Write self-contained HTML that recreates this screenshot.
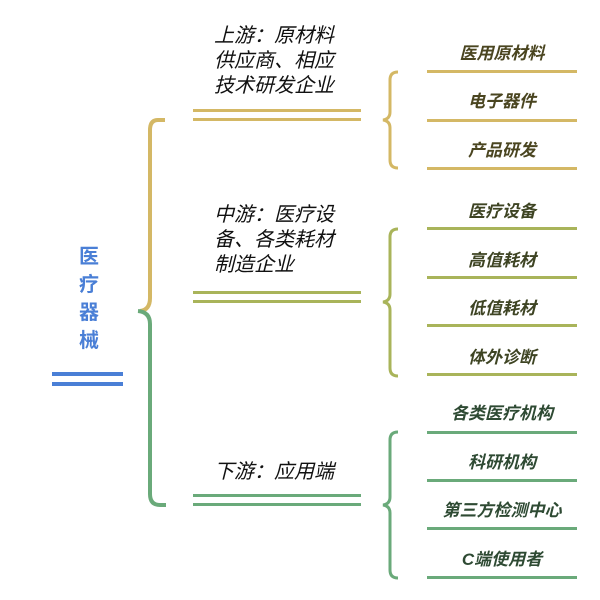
<!DOCTYPE html>
<html><head><meta charset="utf-8"><style>
html,body{margin:0;padding:0;background:#fff;}
svg{display:block;}
.l{font-family:"Liberation Sans","Noto Sans CJK SC",sans-serif;font-size:20px;font-style:italic;fill:#111;}
.r{font-family:"Liberation Sans","Noto Sans CJK SC",sans-serif;font-size:17px;font-weight:bold;font-style:italic;text-anchor:middle;}
</style></head><body>
<svg width="600" height="600" viewBox="0 0 600 600" xmlns="http://www.w3.org/2000/svg">
<path d="M165 120 H158 Q150 120 150 130 V298 Q150 310 140 311" fill="none" stroke="#d4b865" stroke-width="4"/>
<path d="M138 311 Q150 312 150 324 V494 Q150 505 160 505 H166" fill="none" stroke="#6aaa7a" stroke-width="4"/>
<g font-family="'Liberation Sans','Noto Sans CJK SC',sans-serif" font-size="20" font-weight="bold" fill="#4a7fd6" text-anchor="middle">
<text x="89" y="263">医</text><text x="89" y="291">疗</text><text x="89" y="319">器</text><text x="89" y="347">械</text>
</g>
<rect x="52" y="372" width="71" height="4" fill="#4a7fd6"/>
<rect x="52" y="382" width="71" height="4" fill="#4a7fd6"/>
<text class="l" x="214" y="42">上游：原材料</text>
<text class="l" x="214" y="67">供应商、相应</text>
<text class="l" x="214" y="92">技术研发企业</text>
<rect x="193" y="109" width="168" height="3" fill="#d4b865"/>
<rect x="193" y="118" width="168" height="3" fill="#d4b865"/>
<text class="l" x="214" y="221">中游：医疗设</text>
<text class="l" x="214" y="246">备、各类耗材</text>
<text class="l" x="214" y="271">制造企业</text>
<rect x="193" y="291" width="168" height="3" fill="#a9b45a"/>
<rect x="193" y="300" width="168" height="3" fill="#a9b45a"/>
<text class="l" x="214" y="478">下游：应用端</text>
<rect x="193" y="494" width="168" height="3" fill="#6aaa7a"/>
<rect x="193" y="503" width="168" height="3" fill="#6aaa7a"/>
<path d="M398 72 Q390 72 390 80 V112 Q390 119 383 120 Q390 121 390 128 V160 Q390 168 398 168" fill="none" stroke="#d4b865" stroke-width="3"/>
<path d="M398 229 Q390 229 390 237 V294 Q390 301 383 302 Q390 303 390 310 V368 Q390 376 398 376" fill="none" stroke="#a9b45a" stroke-width="3"/>
<path d="M398 432 Q390 432 390 440 V497 Q390 504 383 505 Q390 506 390 513 V570 Q390 578 398 578" fill="none" stroke="#6aaa7a" stroke-width="3"/>
<g fill="#d4b865"><rect x="427" y="70" width="150" height="3"/><rect x="427" y="119" width="150" height="3"/><rect x="427" y="167" width="150" height="3"/></g>
<text class="r" x="502" y="59" fill="#4a4520">医用原材料</text>
<text class="r" x="502" y="107" fill="#4a4520">电子器件</text>
<text class="r" x="502" y="156" fill="#4a4520">产品研发</text>
<g fill="#a9b45a"><rect x="427" y="227" width="150" height="3"/><rect x="427" y="276" width="150" height="3"/><rect x="427" y="324" width="150" height="3"/><rect x="427" y="373" width="150" height="3"/></g>
<text class="r" x="502" y="217" fill="#3e4423">医疗设备</text>
<text class="r" x="502" y="266" fill="#3e4423">高值耗材</text>
<text class="r" x="502" y="314" fill="#3e4423">低值耗材</text>
<text class="r" x="502" y="363" fill="#3e4423">体外诊断</text>
<g fill="#6aaa7a"><rect x="427" y="431" width="150" height="3"/><rect x="427" y="479" width="150" height="3"/><rect x="427" y="527" width="150" height="3"/><rect x="427" y="576" width="150" height="3"/></g>
<text class="r" x="502" y="419" fill="#2e4a33">各类医疗机构</text>
<text class="r" x="502" y="468" fill="#2e4a33">科研机构</text>
<text class="r" x="502" y="516" fill="#2e4a33">第三方检测中心</text>
<text class="r" x="502" y="565" fill="#2e4a33">C端使用者</text>
</svg>
</body></html>
